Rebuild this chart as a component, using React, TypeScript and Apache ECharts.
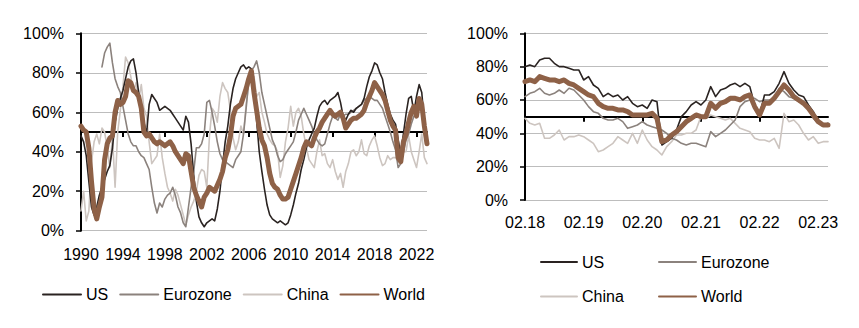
import React, { useEffect, useRef } from "react";
import * as echarts from "echarts";

// ---------- Long-run panel (quarterly, 1990Q1 .. 2023Q1) ----------
const LONG_START_YEAR = 1990;
const LONG_TICK_LABELS = ["1990", "1994", "1998", "2002", "2006", "2010", "2014", "2018", "2022"];

const LONG_US = [
  48, 45, 38, 25, 12, 8, 12, 18, 22, 26,
  30, 33, 42, 55, 62, 67, 71, 77, 83, 86,
  87, 80, 70, 62, 55, 49, 64, 69, 67, 65,
  61, 62, 63, 62, 61, 59, 57, 55, 53, 51,
  58, 55, 44, 28, 15, 7, 4, 2, 4, 5,
  6, 5, 11, 20, 33, 45, 53, 64, 72, 77,
  80, 83, 84, 82, 83, 82, 72, 56, 40, 30,
  21, 13, 8, 6, 5, 4, 5, 4, 3, 4,
  8, 13, 19, 24, 31, 36, 42, 46, 49, 52,
  58, 63, 65, 66, 64, 66, 67, 68, 70, 65,
  58, 56, 59, 61, 60, 62, 63, 64, 67, 73,
  78, 81, 85, 84, 80, 77, 70, 64, 59, 56,
  54, 46, 39, 49, 59, 67, 68, 60, 68, 74,
  70, 55, 45,
];

const LONG_EUROZONE = [
  null, null, null, null, null, null, null, null, 83, 90,
  93, 95, 85, 77, 73, 70, 63, 56, 49, 45,
  43, 43, 40, 38, 37, 34, 31, 22, 14, 9,
  14, 12, 16, 18, 19, 22, 18, 12, 9, 4,
  2, 12, 22, 30, 42, 42, 44, 49, 65, 66,
  60, 53, 45, 39, 36, 35, 34, 33, 32, 36,
  38, 40, 49, 62, 76, 81, 83, 86, 80, 70,
  64, 58, 52, 46, 43, 38, 35, 36, 39, 41,
  43, 45, 50, 56, 59, 62, 59, 56, 53, 49,
  46, 44, 43, 44, 49, 54, 58, 57, 56, 59,
  58, 59, 59, 60, 61, 62, 63, 64, 66, 67,
  68, 67, 66, 66, 64, 62, 58, 54, 50, 45,
  41, 32, 34, 40, 46, 49, 54, 58, 60, 63,
  61, 50, 44,
];

const LONG_CHINA = [
  10, 20, 5, 10, 35, 45, 49, 44, 52, 50,
  42, 32, 48, 22, 50, 61, 73, 88, 85, 78,
  70, 75, 66, 74, 62, 58, 45, 34, 36, 38,
  49, 37, 29, 22, 19, 15, 21, 18, 13, 8,
  3, 8, 12, 15, 20, 28, 31, 30, 22, 48,
  62, 60, 55, 68, 75, 72, 70, 61, 47, 41,
  45, 53, 49, 64, 74, 76, 78, 68, 70, 60,
  55, 49, 46, 44, 43, 40, 27, 33, 45, 52,
  63, 53, 60, 62, 58, 49, 42, 36, 34, 32,
  40, 46, 38, 39, 34, 32, 36, 30, 26, 29,
  22, 30, 34, 40, 41, 38, 40, 46, 39, 38,
  43, 46, 48, 43, 37, 33, 34, 38, 36, 37,
  37, 35, 43, 40, 40, 48, 40, 36, 32, 40,
  49, 37, 34,
];

const LONG_WORLD = [
  53, 51, 50, 42, 25, 11, 6, 12, 17, 36,
  44, 47, 48, 60, 66, 64, 65, 68, 76, 75,
  71, 70, 68, 62, 50, 48, 49, 47, 45, 44,
  45, 44, 43, 44, 45, 43, 40, 38, 36, 34,
  39, 38, 30, 22, 18, 15, 12, 17, 19, 22,
  21, 20, 23, 26, 30, 37, 41, 48, 58, 62,
  63, 64, 68, 72, 77, 81, 70, 61, 52, 46,
  43, 37, 29, 24, 22, 21, 18, 16, 16, 17,
  21, 25, 29, 33, 37, 42, 45, 44, 43, 47,
  50, 52, 55, 57, 59, 61, 59, 58, 59, 60,
  57, 52, 54, 56, 57, 57, 58, 59, 61, 65,
  68, 71, 75, 73, 71, 69, 66, 61, 56, 53,
  51, 37, 35, 45, 49, 55, 60, 63, 58, 67,
  64, 53, 44,
];

// ---------- Recent panel (monthly, 02.18 .. 04.23) ----------
const SHORT_START_YEAR = 2018;
const SHORT_START_MONTH = 2;
const SHORT_TICK_LABELS = ["02.18", "02.19", "02.20", "02.21", "02.22", "02.23"];

const SHORT_US = [
  80, 81, 80, 84, 85, 85, 82, 80, 80, 79,
  78, 78, 72, 74, 69, 67, 62, 64, 62, 63,
  60, 62, 58, 56, 57, 55, 60, 59, 33, 35,
  37, 42, 50, 53, 57, 59, 57, 60, 68, 62,
  66, 67, 69, 70, 68, 70, 68, 57, 51, 63,
  63, 65, 70, 77, 70, 66, 63, 62, 57, 53,
  47, 45, 46,
];

const SHORT_EUROZONE = [
  62, 64, 65, 67, 64, 63, 64, 66, 64, 67,
  66, 63, 60, 56, 53, 52, 49, 48, 48, 49,
  47, 43, 44, 45, 47, 45, 44, 43, 42, 40,
  37, 36, 34, 33, 34, 34, 33, 32, 41, 38,
  40, 42, 45, 48, 56, 59, 60, 61, 59, 60,
  60, 61, 67, 65, 62, 61, 59, 58, 55, 49,
  46, 45, 45,
];

const SHORT_CHINA = [
  49, 46, 45, 46, 37, 37, 39, 42, 36, 38,
  38, 39, 38, 36, 34, 29, 30, 32, 34, 38,
  36, 34, 40, 34, 42, 36, 32, 30, 27, 32,
  35, 39, 39, 40, 40, 42, 50, 49, 51, 50,
  49, 48, 49, 46, 43, 42, 41, 37, 36, 36,
  35, 37, 31, 52, 47, 48, 45, 40, 36, 38,
  34, 35, 35,
];

const SHORT_WORLD = [
  71, 72, 71, 74, 73, 72, 72, 71, 72, 70,
  69, 67, 65, 63, 62, 58, 56, 55, 55, 54,
  54, 53, 51, 51, 51, 51, 52, 49, 35, 36,
  39, 41, 44, 47, 49, 51, 50, 50, 58, 55,
  58, 59, 61, 61, 60, 62, 63, 56, 51, 58,
  58, 61, 65, 69, 66, 62, 60, 58, 55, 51,
  47, 45, 45,
];

const Y_TICK_STEP = 20;
const THRESHOLD = 50;

// ---------- categories ----------
const LONG_CATEGORIES: string[] = LONG_US.map(
  (_, i) => `${LONG_START_YEAR + Math.floor(i / 4)}Q${(i % 4) + 1}`
);
const SHORT_CATEGORIES: string[] = SHORT_US.map((_, j) => {
  const m0 = SHORT_START_MONTH - 1 + j;
  const yr = SHORT_START_YEAR + Math.floor(m0 / 12);
  const mo = (m0 % 12) + 1;
  return `${String(mo).padStart(2, "0")}.${String(yr % 100).padStart(2, "0")}`;
});

const FONT = "'Liberation Sans', Arial, Helvetica, sans-serif";
const COLORS: Record<string, string> = {
  US: "#2a2321",
  Eurozone: "#8b827d",
  China: "#cdc5c0",
  World: "#8e6147",
};
const WIDTHS: Record<string, number> = { US: 1.6, Eurozone: 1.6, China: 1.6, World: 5 };

const G1 = { left: 81, top: 33.3, width: 346, height: 197.4 };
const G2 = { left: 525, top: 33.3, width: 303, height: 166.7 };

function lineSeries(name: string, data: (number | null)[], idx: number) {
  return {
    type: "line",
    name,
    data,
    xAxisIndex: idx,
    yAxisIndex: idx,
    symbol: "none",
    showSymbol: false,
    connectNulls: false,
    lineStyle: { color: COLORS[name], width: WIDTHS[name], join: "round", cap: "round" },
    itemStyle: { color: COLORS[name] },
    emphasis: { disabled: true },
  };
}

function xAxis(idx: number, cats: string[], grid: any, every: number, ticks: string[], labelGap: number) {
  const half = grid.height * (1 - THRESHOLD / 100);
  return {
    type: "category",
    gridIndex: idx,
    data: cats,
    boundaryGap: false,
    position: "bottom",
    offset: -half,
    axisLine: { show: true, onZero: false, lineStyle: { color: "#000", width: 2 } },
    axisTick: {
      show: true,
      length: 5,
      interval: (i: number) => i % every === 0,
      lineStyle: { color: "#000", width: 2 },
    },
    axisLabel: {
      show: true,
      interval: (i: number) => i % every === 0,
      formatter: (_v: string, i: number) => ticks[Math.round(i / every)] ?? "",
      margin: half + labelGap,
      fontSize: 16,
      fontFamily: FONT,
      color: "#000",
    },
    splitLine: { show: false },
  };
}

function yAxis(idx: number) {
  return {
    type: "value",
    gridIndex: idx,
    min: 0,
    max: 100,
    interval: Y_TICK_STEP,
    axisLine: { show: true, lineStyle: { color: "#000", width: 2 } },
    axisTick: { show: true, length: 5, lineStyle: { color: "#000", width: 1.5 } },
    axisLabel: {
      formatter: "{value}%",
      fontSize: 16,
      fontFamily: FONT,
      color: "#000",
      margin: 17,
    },
    splitLine: { show: true, lineStyle: { color: "#bdbdbd", width: 1 } },
  };
}

const legendText = { fontSize: 16, fontFamily: FONT, color: "#000" };

const option = {
  animation: false,
  backgroundColor: "#fff",
  grid: [G1, G2],
  xAxis: [
    xAxis(0, LONG_CATEGORIES, G1, 16, LONG_TICK_LABELS, 15.5),
    xAxis(1, SHORT_CATEGORIES, G2, 12, SHORT_TICK_LABELS, 14),
  ],
  yAxis: [yAxis(0), yAxis(1)],
  legend: [
    {
      left: 42,
      top: 286.5,
      padding: 0,
      itemWidth: 38,
      itemHeight: 12,
      itemGap: 11,
      selectedMode: false,
      data: ["US", "Eurozone", "China", "World"],
      textStyle: legendText,
      itemStyle: { opacity: 0 },
    },
    {
      left: 540,
      top: 254,
      padding: 0,
      orient: "vertical",
      itemWidth: 36,
      itemHeight: 12,
      itemGap: 18.5,
      selectedMode: false,
      data: ["US", "China"],
      textStyle: legendText,
      itemStyle: { opacity: 0 },
    },
    {
      left: 658,
      top: 254,
      padding: 0,
      orient: "vertical",
      itemWidth: 37,
      itemHeight: 12,
      itemGap: 18.5,
      selectedMode: false,
      data: ["Eurozone", "World"],
      textStyle: legendText,
      itemStyle: { opacity: 0 },
    },
  ],
  series: [
    lineSeries("China", LONG_CHINA, 0),
    lineSeries("Eurozone", LONG_EUROZONE, 0),
    lineSeries("US", LONG_US, 0),
    lineSeries("World", LONG_WORLD, 0),
    lineSeries("China", SHORT_CHINA, 1),
    lineSeries("Eurozone", SHORT_EUROZONE, 1),
    lineSeries("US", SHORT_US, 1),
    lineSeries("World", SHORT_WORLD, 1),
  ],
};

export default function App() {
  const ref = useRef<HTMLDivElement>(null);
  useEffect(() => {
    if (!ref.current) return;
    const chart = echarts.init(ref.current, null, { renderer: "svg" });
    chart.setOption(option as any);
    return () => chart.dispose();
  }, []);
  return (
    <div
      ref={ref}
      style={{ position: "absolute", left: 0, top: 0, width: 859, height: 328, background: "#fff" }}
    />
  );
}
